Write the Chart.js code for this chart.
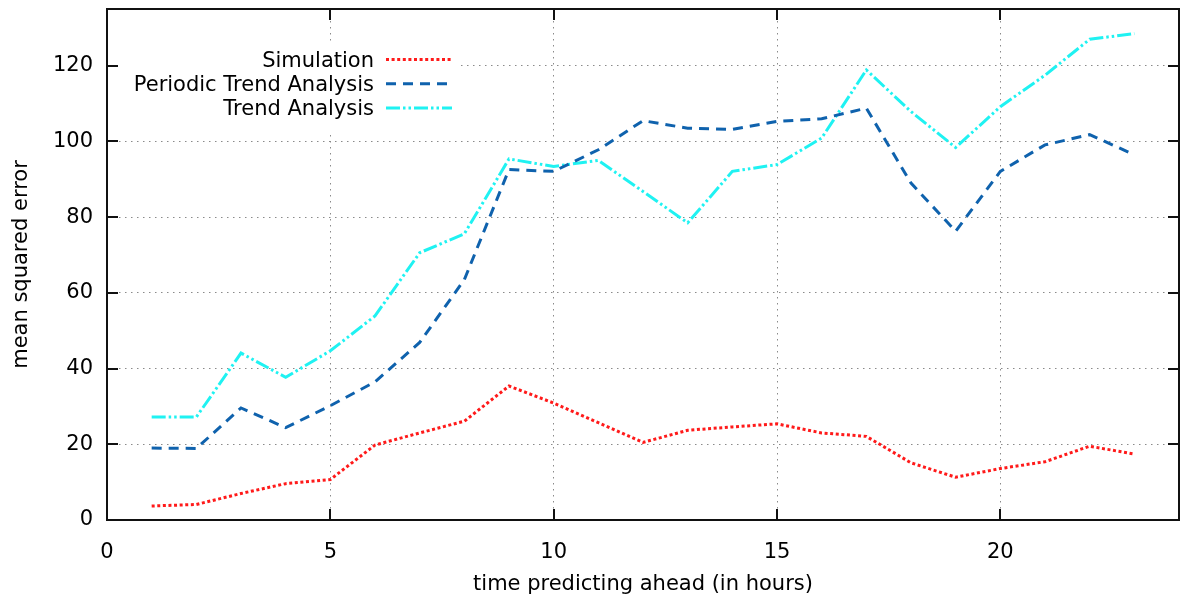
<!DOCTYPE html>
<html>
<head>
<meta charset="utf-8">
<script src="https://cdn.jsdelivr.net/npm/chart.js@4/dist/chart.umd.min.js"></script>
<style>
  html, body { margin: 0; padding: 0; background: #fff; }
  #wrap { width: 1181px; height: 600px; position: relative; }
</style>
</head>
<body>
<div id="wrap"><canvas id="c" width="1181" height="600"></canvas></div>
<script>
// Forecast horizon (hours) and mean squared error for each method
const hours = [1, 2, 3, 4, 5, 6, 7, 8, 9, 10, 11, 12, 13, 14, 15, 16, 17, 18, 19, 20, 21, 22, 23];
const simulation = [3.7, 4.1, 7.0, 9.6, 10.7, 19.8, 23.0, 26.1, 35.4, 30.9, 25.7, 20.5, 23.7, 24.6, 25.4, 23.0, 22.1, 15.1, 11.3, 13.6, 15.4, 19.5, 17.4];
const periodicTrend = [19.0, 18.9, 29.6, 24.4, 30.2, 36.5, 46.9, 63.5, 92.6, 92.1, 97.8, 105.5, 103.5, 103.2, 105.3, 106.0, 108.8, 89.0, 76.3, 92.1, 99.1, 101.8, 96.5];
const trendAnalysis = [27.2, 27.2, 44.1, 37.7, 44.7, 53.9, 70.6, 75.6, 95.4, 93.4, 95.0, 86.8, 78.5, 92.1, 93.9, 100.9, 118.9, 107.9, 98.4, 109.2, 117.5, 127.0, 128.5];

const seriesNames = ['Simulation', 'Periodic Trend Analysis', 'Trend Analysis'];
const xTitle = 'time predicting ahead (in hours)';
const yTitle = 'mean squared error';

const FONT = '"DejaVu Sans", Verdana, sans-serif';
const FONT_SIZE = 21;

const pts = (ys) => hours.map((h, i) => ({ x: h, y: ys[i] }));

const styles = [
  { color: '#ff1a1a', dash: [3, 2.6], width: 3 },
  { color: '#0f62ad', dash: [10, 7], width: 3 },
  { color: '#1ff2f2', dash: [14, 3, 2.5, 3, 2.5, 3], width: 3 }
];

const seriesValues = [simulation, periodicTrend, trendAnalysis];

// Opaque key box behind the legend, drawn over the grid
const keyBoxPlugin = {
  id: 'keyBox',
  beforeDatasetsDraw(chart) {
    const ctx = chart.ctx;
    ctx.save();
    ctx.fillStyle = '#ffffff';
    ctx.fillRect(109, 45, 352, 88);
    ctx.restore();
  }
};

// gnuplot-style key: right-aligned labels followed by line samples
const keyPlugin = {
  id: 'key',
  afterDatasetsDraw(chart) {
    const ctx = chart.ctx;
    const rows = [59.5, 83.8, 108];
    ctx.save();
    ctx.font = FONT_SIZE + 'px ' + FONT;
    ctx.textAlign = 'right';
    ctx.textBaseline = 'middle';
    chart.data.datasets.forEach((ds, i) => {
      ctx.fillStyle = '#000';
      ctx.fillText(ds.label, 374, rows[i] + 2);
      ctx.beginPath();
      ctx.setLineDash(ds.borderDash);
      ctx.lineDashOffset = 0;
      ctx.lineCap = 'butt';
      ctx.strokeStyle = ds.borderColor;
      ctx.lineWidth = ds.borderWidth;
      ctx.moveTo(386, rows[i]);
      ctx.lineTo(452, rows[i]);
      ctx.stroke();
    });
    ctx.restore();
  }
};

// Plot border and inward tick marks on all four sides
const framePlugin = {
  id: 'frame',
  afterDraw(chart) {
    const { ctx, chartArea: a, scales } = chart;
    ctx.save();
    ctx.setLineDash([]);
    ctx.strokeStyle = '#111';
    ctx.lineWidth = 2;
    ctx.beginPath();
    scales.y.ticks.forEach(t => {
      const y = Math.round(scales.y.getPixelForValue(t.value));
      ctx.moveTo(a.left, y); ctx.lineTo(a.left + 11, y);
      ctx.moveTo(a.right, y); ctx.lineTo(a.right - 11, y);
    });
    scales.x.ticks.forEach(t => {
      const x = Math.round(scales.x.getPixelForValue(t.value));
      ctx.moveTo(x, a.bottom); ctx.lineTo(x, a.bottom - 11);
      ctx.moveTo(x, a.top); ctx.lineTo(x, a.top + 11);
    });
    ctx.stroke();
    ctx.strokeRect(a.left, a.top, a.right - a.left, a.bottom - a.top);
    ctx.restore();
  }
};

const gridStyle = {
  color: '#8a8a8a',
  lineWidth: 1,
  drawTicks: false
};

new Chart(document.getElementById('c'), {
  type: 'line',
  data: {
    datasets: seriesNames.map((name, i) => ({
      label: name,
      data: pts(seriesValues[i]),
      borderColor: styles[i].color,
      backgroundColor: styles[i].color,
      borderDash: styles[i].dash,
      borderWidth: styles[i].width,
      borderCapStyle: 'butt',
      borderJoinStyle: 'miter',
      pointRadius: 0,
      tension: 0,
      fill: false
    }))
  },
  options: {
    responsive: false,
    animation: false,
    devicePixelRatio: 1,
    layout: { padding: { top: 9, right: 2, left: 0, bottom: 0 } },
    plugins: {
      legend: { display: false },
      tooltip: { enabled: false }
    },
    scales: {
      x: {
        type: 'linear',
        min: 0,
        max: 24,
        grid: gridStyle,
        border: { display: false, dash: [1.5, 4.5] },
        ticks: {
          stepSize: 5,
          includeBounds: false,
          autoSkip: false,
          maxRotation: 0,
          padding: 20,
          color: '#000',
          font: { family: FONT, size: FONT_SIZE }
        },
        title: {
          display: true,
          text: xTitle,
          color: '#000',
          font: { family: FONT, size: FONT_SIZE },
          padding: { top: 0, bottom: 3 }
        },
        afterFit(scale) {
          scale.height = 80;
          scale.paddingLeft = 0;
          scale.paddingRight = 0;
        }
      },
      y: {
        type: 'linear',
        min: 0,
        max: 135,
        grid: gridStyle,
        border: { display: false, dash: [1.5, 4.5] },
        ticks: {
          stepSize: 20,
          includeBounds: false,
          padding: 14,
          color: '#000',
          font: { family: FONT, size: FONT_SIZE }
        },
        title: {
          display: true,
          text: yTitle,
          color: '#000',
          font: { family: FONT, size: FONT_SIZE },
          padding: { top: 9, bottom: 0 }
        },
        afterFit(scale) {
          scale.width = 107;
          scale.paddingTop = 0;
          scale.paddingBottom = 0;
        }
      }
    }
  },
  plugins: [keyBoxPlugin, keyPlugin, framePlugin]
});
</script>
</body>
</html>
